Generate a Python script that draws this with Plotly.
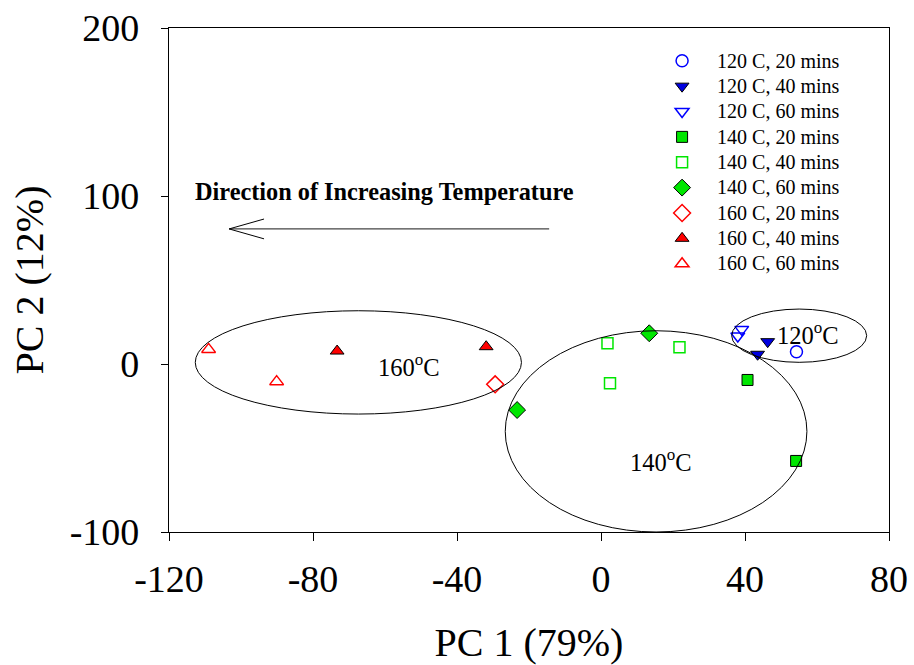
import plotly.graph_objects as go

# ---- data ----
series_names = ["120 C, 20 mins", "120 C, 40 mins", "120 C, 60 mins",
                "140 C, 20 mins", "140 C, 40 mins", "140 C, 60 mins",
                "160 C, 20 mins", "160 C, 40 mins", "160 C, 60 mins"]
pc1_120_20 = [54.3]
pc2_120_20 = [7.3]
pc1_120_40 = [46.3, 43.5]
pc2_120_40 = [13.3, 5.8]
pc1_120_60 = [39.1, 38.0]
pc2_120_60 = [20.6, 16.7]
pc1_140_20 = [40.7, 54.2]
pc2_140_20 = [-9.5, -57.7]
pc1_140_40 = [1.8, 21.8, 2.5]
pc2_140_40 = [12.3, 9.9, -11.5]
pc1_140_60 = [13.4, -23.3]
pc2_140_60 = [18.3, -27.4]
pc1_160_20 = [-29.4]
pc2_160_20 = [-12.1]
pc1_160_40 = [-73.3, -31.9]
pc2_160_40 = [7.7, 10.3]
pc1_160_60 = [-109.0, -90.1]
pc2_160_60 = [8.7, -10.5]

x_ticks = [-120, -80, -40, 0, 40, 80]
x_tick_labels = ["-120", "-80", "-40", "0", "40", "80"]
y_ticks = [-100, 0, 100, 200]
y_tick_labels = ["-100", "0", "100", "200"]

# cluster ellipses (x0, x1, y0, y1) and their labels
cluster_temps = ["160", "140", "120"]
ellipse_x0 = [-112.7, -26.6, 36.3]
ellipse_x1 = [-22.1, 57.2, 73.8]
ellipse_y0 = [-29.8, -100.0, 1.0]
ellipse_y1 = [31.7, 19.8, 32.7]
label_x = [-53.3, 16.7, 57.4]
label_y = [-0.6, -57.7, 18.3]

arrow_text = "Direction of Increasing Temperature"
arrow_tail = (-14.4, 80.4)
arrow_tip = (-103.3, 80.4)
arrow_barb_x = -93.6
arrow_barb_dy = 5.9

FONT = "Liberation Serif, Times New Roman, serif"
BLUE = "#0000ff"
GREEN = "#00e600"
RED = "#ff0000"

styles = [
    dict(symbol="circle-open", color=BLUE, size=12, line=dict(color=BLUE, width=1.5)),
    dict(symbol="triangle-down", color="#0000e0", size=12, line=dict(color="black", width=1)),
    dict(symbol="triangle-down-open", color=BLUE, size=12, line=dict(color=BLUE, width=1.5)),
    dict(symbol="square", color=GREEN, size=11, line=dict(color="black", width=1)),
    dict(symbol="square-open", color=GREEN, size=11, line=dict(color=GREEN, width=1.5)),
    dict(symbol="diamond", color=GREEN, size=13, line=dict(color="black", width=1)),
    dict(symbol="diamond-open", color=RED, size=13, line=dict(color=RED, width=1.5)),
    dict(symbol="triangle-up", color=RED, size=12, line=dict(color="black", width=1)),
    dict(symbol="triangle-up-open", color=RED, size=12, line=dict(color=RED, width=1.5)),
]
xs = [pc1_120_20, pc1_120_40, pc1_120_60, pc1_140_20, pc1_140_40, pc1_140_60,
      pc1_160_20, pc1_160_40, pc1_160_60]
ys = [pc2_120_20, pc2_120_40, pc2_120_60, pc2_140_20, pc2_140_40, pc2_140_60,
      pc2_160_20, pc2_160_40, pc2_160_60]

fig = go.Figure()
for name, x, y, st in zip(series_names, xs, ys, styles):
    fig.add_trace(go.Scatter(
        x=x, y=y, mode="markers", marker=st,
        name="<span style='font-size:20px'>" + name + "</span>"))

shapes = []
for x0, x1, y0, y1 in zip(ellipse_x0, ellipse_x1, ellipse_y0, ellipse_y1):
    shapes.append(dict(type="circle", xref="x", yref="y", x0=x0, x1=x1, y0=y0, y1=y1,
                       line=dict(color="black", width=1)))
arrow_line = dict(color="#444444", width=1.2)
shapes.append(dict(type="line", xref="x", yref="y", x0=arrow_tail[0], y0=arrow_tail[1],
                   x1=arrow_tip[0], y1=arrow_tip[1], line=arrow_line))
for sgn in (1, -1):
    shapes.append(dict(type="line", xref="x", yref="y", x0=arrow_tip[0], y0=arrow_tip[1],
                       x1=arrow_barb_x, y1=arrow_tip[1] + sgn * arrow_barb_dy,
                       line=dict(color="black", width=1)))

annotations = []
for t, x, y in zip(cluster_temps, label_x, label_y):
    txt = t + "<span style='font-size:17px;baseline-shift:11px'>o</span>C"
    annotations.append(dict(text=txt, x=x, y=y, xref="x", yref="y", showarrow=False,
                            font=dict(family=FONT, size=24.5, color="black")))
annotations.append(dict(text="<b>" + arrow_text + "</b>", x=(arrow_tail[0] + arrow_tip[0]) / 2 - 1.3,
                        y=102.5, xref="x", yref="y", showarrow=False,
                        font=dict(family=FONT, size=24.3, color="black")))

fig.update_layout(
    width=914, height=665,
    margin=dict(l=169, r=25, t=28, b=133),
    paper_bgcolor="white", plot_bgcolor="white",
    font=dict(family=FONT, color="black"),
    shapes=shapes, annotations=annotations,
    showlegend=True,
    legend=dict(x=0.664, y=0.97, xanchor="left", yanchor="top",
                font=dict(family=FONT, size=17.2, color="black"),
                bgcolor="rgba(0,0,0,0)", itemwidth=60, tracegroupgap=0),
)
fig.update_xaxes(range=[-120, 80], tickvals=x_ticks, ticktext=x_tick_labels,
                 ticks="outside", ticklen=8, automargin=False,
                 tickwidth=1, tickcolor="black", showline=True, linecolor="black",
                 linewidth=1.2, mirror=True, showgrid=False, zeroline=False,
                 tickfont=dict(family=FONT, size=38), ticklabelstandoff=5,
                 title=dict(text="PC 1 (79%)", font=dict(family=FONT, size=40), standoff=35))
fig.update_yaxes(range=[-100, 200], tickvals=y_ticks, ticktext=y_tick_labels,
                 ticks="outside", ticklen=7, automargin=False,
                 tickwidth=1, tickcolor="black", showline=True, linecolor="black",
                 linewidth=1.2, mirror=True, showgrid=False, zeroline=False,
                 tickfont=dict(family=FONT, size=38), ticklabelstandoff=14,
                 title=dict(text="PC 2 (12%)", font=dict(family=FONT, size=40), standoff=13))

fig.write_html("out.html")
